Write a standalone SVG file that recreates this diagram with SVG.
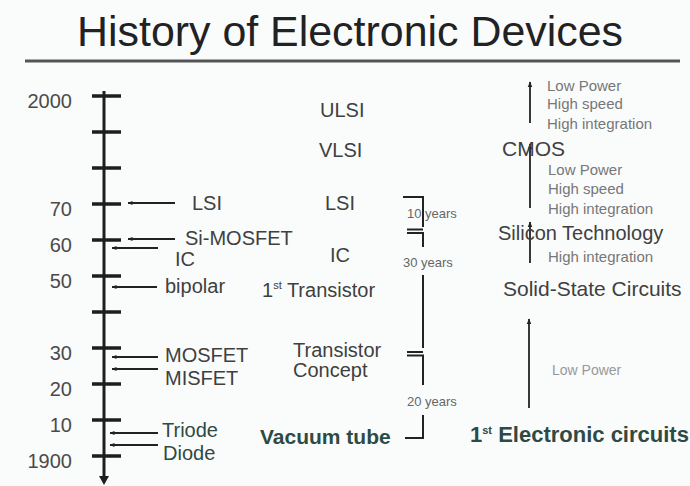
<svg xmlns="http://www.w3.org/2000/svg" width="690" height="486" viewBox="0 0 690 486">
<defs>
<style>
text{font-family:"Liberation Sans",Arial,sans-serif}
.title{font-size:42px;fill:#222}
.yr{font-size:20px;fill:#4a4a4a;text-anchor:end}
.lbl{font-size:20px;fill:#404040}
.teal{font-size:20px;fill:#2e4a44;font-weight:bold}
.sm{font-size:15px;fill:#777}
.yrs{font-size:13px;fill:#666}
.tick{stroke:#1e1e1e;stroke-width:3.5}
.ln{stroke:#222;stroke-width:1.8;fill:none}
.br{stroke:#222;stroke-width:2;fill:none}
</style>
<marker id="ah" viewBox="0 0 10 10" refX="9" refY="5" markerWidth="5" markerHeight="5" orient="auto" markerUnits="userSpaceOnUse">
<path d="M0,1 L10,5 L0,9 z" fill="#222"/>
</marker>
<marker id="ah2" viewBox="0 0 10 10" refX="9" refY="5" markerWidth="6" markerHeight="6" orient="auto" markerUnits="userSpaceOnUse">
<path d="M0,1 L10,5 L0,9 z" fill="#222"/>
</marker>
</defs>
<rect width="690" height="486" fill="#fafcfc"/>
<g id="title">
<text class="title" x="77" y="46" textLength="546" lengthAdjust="spacingAndGlyphs">History of Electronic Devices</text>
<line x1="25" y1="61" x2="680" y2="61" stroke="#555" stroke-width="3"/>
</g>
<g id="axis">
<line x1="104" y1="91" x2="104" y2="478" stroke="#1e1e1e" stroke-width="3"/>
<path d="M99,476 L109,476 L104,485 z" fill="#1e1e1e"/>
<line class="tick" x1="92" y1="96" x2="121" y2="96"/>
<line class="tick" x1="92" y1="132" x2="121" y2="132"/>
<line class="tick" x1="92" y1="168" x2="121" y2="168"/>
<line class="tick" x1="92" y1="204" x2="121" y2="204"/>
<line class="tick" x1="92" y1="240" x2="121" y2="240"/>
<line class="tick" x1="92" y1="276" x2="121" y2="276"/>
<line class="tick" x1="92" y1="312" x2="121" y2="312"/>
<line class="tick" x1="92" y1="348" x2="121" y2="348"/>
<line class="tick" x1="92" y1="384" x2="121" y2="384"/>
<line class="tick" x1="92" y1="420" x2="121" y2="420"/>
<line class="tick" x1="92" y1="456" x2="121" y2="456"/>
<text class="yr" x="72" y="108">2000</text>
<text class="yr" x="72" y="216">70</text>
<text class="yr" x="72" y="252">60</text>
<text class="yr" x="72" y="288">50</text>
<text class="yr" x="72" y="360">30</text>
<text class="yr" x="72" y="396">20</text>
<text class="yr" x="72" y="432">10</text>
<text class="yr" x="72" y="468">1900</text>
</g>
<g id="connectors">
<line class="ln" x1="175" y1="203" x2="128" y2="203" marker-end="url(#ah)"/>
<line class="ln" x1="175" y1="239" x2="128" y2="239" stroke-width="3" marker-end="url(#ah)"/>
<line class="ln" x1="158" y1="248" x2="112" y2="248" marker-end="url(#ah)"/>
<line class="ln" x1="157" y1="287" x2="112" y2="287" marker-end="url(#ah)"/>
<line class="ln" x1="158" y1="357" x2="112" y2="357" marker-end="url(#ah)"/>
<line class="ln" x1="158" y1="369" x2="112" y2="369" marker-end="url(#ah)"/>
<line class="ln" x1="158" y1="433" x2="110" y2="433" marker-end="url(#ah)"/>
<line class="ln" x1="158" y1="445" x2="110" y2="445" marker-end="url(#ah)"/>
<line class="ln" x1="530" y1="123" x2="530" y2="82" marker-end="url(#ah2)"/>
<line class="ln" x1="530" y1="208" x2="530" y2="144" marker-end="url(#ah2)"/>
<line class="ln" x1="530" y1="263" x2="530" y2="222" marker-end="url(#ah2)"/>
<line class="ln" x1="529" y1="408" x2="529" y2="319" marker-end="url(#ah2)"/>
<path class="br" d="M403,197 H423 V227"/>
<path class="br" d="M407,229.5 H423 M407,233 H423 V247"/>
<path class="br" d="M423,275 V348"/>
<path class="br" d="M407,352 H423 M407,355.5 H423 V385"/>
<path class="br" d="M423,415 V438 H405"/>
</g>
<g id="n-lsi"><text class="lbl" x="192" y="210">LSI</text></g>
<g id="n-simosfet"><text class="lbl" x="185" y="245">Si-MOSFET</text></g>
<g id="n-ic"><text class="lbl" x="175" y="266">IC</text></g>
<g id="n-bipolar"><text class="lbl" x="165" y="293">bipolar</text></g>
<g id="n-mosfet"><text class="lbl" x="165" y="362">MOSFET</text></g>
<g id="n-misfet"><text class="lbl" x="165" y="385">MISFET</text></g>
<g id="n-triode"><text class="teal" x="162" y="437" style="font-weight:normal">Triode</text></g>
<g id="n-diode"><text class="teal" x="163" y="460" style="font-weight:normal">Diode</text></g>
<g id="n-ulsi"><text class="lbl" x="320" y="117">ULSI</text></g>
<g id="n-vlsi"><text class="lbl" x="319" y="157">VLSI</text></g>
<g id="n-lsi2"><text class="lbl" x="325" y="210">LSI</text></g>
<g id="n-ic2"><text class="lbl" x="330" y="262">IC</text></g>
<g id="n-first-transistor"><text class="lbl" x="262" y="297">1<tspan font-size="11" dy="-8">st</tspan><tspan dy="8"> Transistor</tspan></text></g>
<g id="n-transistor-concept"><text class="lbl" x="293" y="357">Transistor</text><text class="lbl" x="293" y="377">Concept</text></g>
<g id="n-vacuum"><text class="teal" x="260" y="444" style="font-size:21px">Vacuum tube</text></g>
<g id="n-years">
<text class="yrs" x="407" y="218">10 years</text>
<text class="yrs" x="403" y="267">30 years</text>
<text class="yrs" x="407" y="406">20 years</text>
</g>
<g id="n-top-props">
<text class="sm" x="547" y="91">Low Power</text>
<text class="sm" x="547" y="109">High speed</text>
<text class="sm" x="547" y="129">High integration</text>
</g>
<g id="n-cmos"><text class="lbl" x="502" y="156" style="font-size:21px">CMOS</text></g>
<g id="n-mid-props">
<text class="sm" x="548" y="175">Low Power</text>
<text class="sm" x="548" y="194">High speed</text>
<text class="sm" x="548" y="214">High integration</text>
</g>
<g id="n-silicon"><text class="lbl" x="498" y="240">Silicon Technology</text></g>
<g id="n-low-props"><text class="sm" x="548" y="262">High integration</text></g>
<g id="n-solid"><text class="lbl" x="503" y="296" style="font-size:21px">Solid-State Circuits</text></g>
<g id="n-lowpower"><text class="sm" x="552" y="375" style="font-size:14px;fill:#999">Low Power</text></g>
<g id="n-first-circuits"><text class="teal" x="470" y="442" style="font-size:22px">1<tspan font-size="11" dy="-8">st</tspan><tspan dy="8"> Electronic circuits</tspan></text></g>
</svg>
